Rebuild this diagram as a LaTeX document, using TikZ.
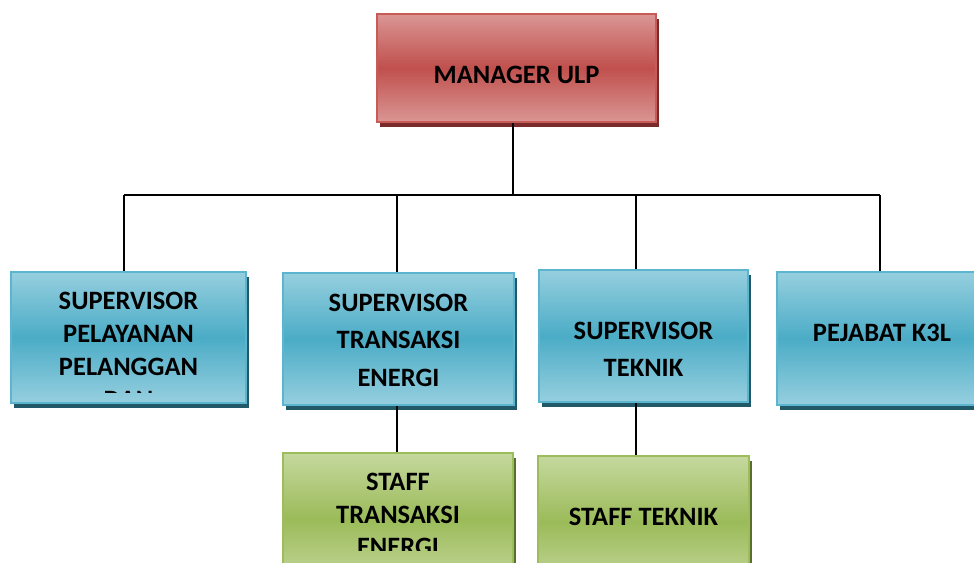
\documentclass[tikz,border=0pt]{standalone}
\usepackage{fontspec}
\setmainfont{Carlito}
\usetikzlibrary{positioning, shadows}
\definecolor{redtop}{HTML}{DA9694}
\definecolor{redmid}{HTML}{C0504D}
\definecolor{redline}{HTML}{C65B58}
\definecolor{redshd}{HTML}{7A2B29}
\definecolor{bluetop}{HTML}{96CFDF}
\definecolor{bluemid}{HTML}{4BACC6}
\definecolor{blueline}{HTML}{5CB5CE}
\definecolor{blueshd}{HTML}{215968}
\definecolor{greentop}{HTML}{C5D89E}
\definecolor{greenmid}{HTML}{9BBB59}
\definecolor{greenline}{HTML}{9DBD5C}
\definecolor{greenshd}{HTML}{5A6F2E}

\begin{document}
\begin{tikzpicture}[x=1pt, y=-1pt,
    unit/.style={rectangle, inner sep=0pt, line width=1.8pt},
    redbox/.style={unit, draw=redline, top color=redtop, bottom color=redtop, middle color=redmid,
        general shadow={fill=redshd, shadow xshift=3pt, shadow yshift=-5pt}},
    bluebox/.style={unit, draw=blueline, top color=bluetop, bottom color=bluetop, middle color=bluemid,
        general shadow={fill=blueshd, shadow xshift=3pt, shadow yshift=-5pt}},
    greenbox/.style={unit, draw=greenline, top color=greentop, bottom color=greentop, middle color=greenmid,
        general shadow={fill=greenshd, shadow xshift=3pt, shadow yshift=-5pt}},
    lbl/.style={font=\bfseries\fontsize{26.5pt}{#1}\selectfont, align=center, inner sep=0pt},
    lbl/.default=33pt,
    wire/.style={draw=black, line width=1.4pt}]

    \path[use as bounding box] (0,0) rectangle (974,562);
    \clip (0,0) rectangle (974,562);

    % boxes
    \node[redbox, minimum width=279pt, minimum height=108pt] (mgr) at (516.5,68) {};
    \node[bluebox, minimum width=235pt, minimum height=131pt] (spp) at (128.5,337.5) {};
    \node[bluebox, minimum width=231pt, minimum height=132pt] (ste) at (398.5,339) {};
    \node[bluebox, minimum width=209pt, minimum height=132pt] (stk) at (643.5,336) {};
    \node[bluebox, minimum width=210pt, minimum height=133pt] (k3l) at (882,338.5) {};
    \node[greenbox, minimum width=230pt, minimum height=132pt] (fte) at (398,519) {};
    \node[greenbox, minimum width=211pt, minimum height=132pt] (ftk) at (643.5,522) {};

    % labels
    \node[lbl] (mgr-t) at ([yshift=-7pt]mgr.center) {MANAGER ULP};
    \begin{scope}
        \clip (spp.north west) rectangle ([yshift=11pt]spp.south east);
        \node[lbl] (spp-t) at ([yshift=-12.7pt]spp.center) {SUPERVISOR\\PELAYANAN\\PELANGGAN\\DAN};
    \end{scope}
    \node[lbl=37.4pt] (ste-t) at ([yshift=-1pt]ste.center) {SUPERVISOR\\TRANSAKSI\\ENERGI};
    \node[lbl=37pt] (stk-t) at ([yshift=-13.5pt]stk.center) {SUPERVISOR\\TEKNIK};
    \node[lbl] (k3l-t) at ([yshift=5.5pt]k3l.center) {PEJABAT K3L};
    \begin{scope}
        \clip (fte.north west) rectangle (fte.east |- 0,550);
        \node[lbl=32.4pt] (fte-t) at ([yshift=4.6pt]fte.center) {STAFF\\TRANSAKSI\\ENERGI};
    \end{scope}
    \node[lbl] (ftk-t) at ([yshift=5pt]ftk.center) {STAFF TEKNIK};

    % connectors
    \coordinate (d1) at (124,195);
    \coordinate (d2) at (397,195);
    \coordinate (d3) at (636,195);
    \coordinate (d4) at (880,195);
    \draw[wire] ([xshift=-3.5pt]mgr.south) -- ([xshift=-3.5pt]mgr.south |- d1);
    \draw[wire] (d1) -- (d4);
    \foreach \d/\b in {d1/spp, d2/ste, d3/stk, d4/k3l}
        \draw[wire] (\d) -- (\d |- \b.north);
    \draw[wire] ([xshift=-1.5pt]ste.south) -- ([xshift=-1.5pt]ste.south |- fte.north);
    \draw[wire] ([xshift=-7.5pt]stk.south) -- ([xshift=-7.5pt]stk.south |- ftk.north);
\end{tikzpicture}
\end{document}
